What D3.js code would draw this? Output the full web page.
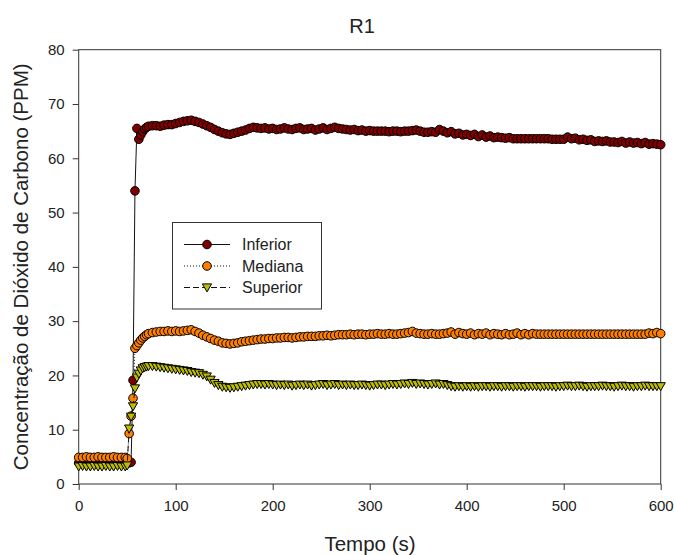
<!DOCTYPE html>
<meta charset="utf-8">
<style>
body { margin: 0; background: #fff; }
svg { font-family: "Liberation Sans", Arial, sans-serif; }
.axis text { font-size: 15px; fill: #222; }
.axis line { stroke: #333; }
.axis path { display: none; }
</style>
<body>
<svg id="chart" width="675" height="555"></svg>
<script src="https://d3js.org/d3.v7.min.js"></script>
<script>

// sample times (s): every 4 s, every 2 s around the step, then every 4 s
var tempo = d3.range(0, 49, 4).concat(d3.range(50, 71, 2), d3.range(72, 601, 4));

var inferior = [
  3.9,3.9,3.9,3.9,3.9,3.9,3.9,3.9,3.9,3.9,3.9,3.9,3.9,
  3.9,3.9,4.0,19.1,54.0,65.5,63.5,64.3,64.9,65.4,65.7,
  65.9,66.0,66.0,65.9,66.1,66.2,66.2,66.4,66.6,66.8,
  66.9,67.0,66.8,66.6,66.3,66.0,65.7,65.3,65.0,64.7,
  64.5,64.4,64.6,64.8,65.0,65.2,65.5,65.7,65.6,65.5,
  65.6,65.4,65.5,65.3,65.4,65.6,65.4,65.3,65.5,65.6,
  65.3,65.4,65.5,65.2,65.4,65.6,65.3,65.5,65.7,65.5,
  65.4,65.3,65.2,65.3,65.1,65.2,65.0,65.1,65.0,65.0,
  65.0,65.0,64.9,65.0,65.0,64.9,65.0,65.0,65.1,65.2,
  65.0,64.8,64.8,64.9,64.8,65.3,65.0,64.7,64.9,64.5,
  64.6,64.3,64.4,64.2,64.4,64.0,64.3,63.9,64.1,63.8,
  63.9,63.8,63.7,63.8,63.6,63.6,63.6,63.6,63.6,63.6,
  63.6,63.6,63.6,63.6,63.5,63.5,63.5,63.5,63.9,63.6,
  63.7,63.4,63.5,63.3,63.4,63.1,63.2,63.1,63.2,63.0,
  63.0,62.9,63.1,62.8,63.0,62.8,62.9,62.7,62.9,62.6,
  62.7,62.6,62.5
];

var mediana = [
  4.9,4.9,5.0,4.9,4.9,5.0,4.9,4.9,4.9,5.0,4.9,4.9,4.9,
  4.7,9.3,12.5,15.8,25.0,25.5,26.0,26.5,26.9,27.2,27.5,
  27.7,27.9,28.0,28.1,28.1,28.2,28.1,28.2,28.1,28.2,
  28.3,28.4,28.1,27.8,27.4,27.1,26.8,26.5,26.3,26.0,
  25.9,25.8,25.9,26.0,26.2,26.3,26.4,26.5,26.6,26.7,
  26.7,26.8,26.8,26.9,26.9,27.0,27.0,26.9,27.0,27.1,
  27.1,27.2,27.2,27.2,27.3,27.3,27.4,27.3,27.4,27.5,
  27.5,27.5,27.6,27.5,27.6,27.6,27.5,27.6,27.6,27.7,
  27.6,27.6,27.7,27.6,27.6,27.7,27.8,27.9,28.1,27.8,
  27.7,27.6,27.6,27.7,27.6,27.6,27.7,27.8,28.0,27.6,
  27.9,27.7,27.6,27.8,27.5,27.7,27.6,27.8,27.5,27.7,
  27.6,27.5,27.7,27.5,27.6,27.8,27.5,27.7,27.5,27.7,
  27.6,27.6,27.6,27.6,27.6,27.6,27.6,27.6,27.6,27.6,
  27.6,27.6,27.6,27.6,27.6,27.6,27.6,27.6,27.6,27.6,
  27.6,27.6,27.6,27.6,27.6,27.6,27.6,27.6,27.6,27.8,
  27.7,27.9,27.7
];

var superior = [
  3.2,3.3,3.2,3.2,3.3,3.2,3.2,3.3,3.2,3.2,3.3,3.2,3.2,
  3.4,10.2,12.4,14.3,17.6,19.6,20.3,20.9,21.3,21.5,21.6,
  21.7,21.7,21.6,21.5,21.4,21.3,21.2,21.1,21.0,20.9,
  20.8,20.6,20.5,20.4,20.1,19.8,19.2,18.6,18.2,17.9,
  17.8,17.7,17.8,17.9,18.0,18.1,18.2,18.3,18.4,18.4,
  18.3,18.4,18.3,18.2,18.3,18.2,18.3,18.1,18.2,18.3,
  18.2,18.3,18.1,18.2,18.3,18.4,18.2,18.3,18.4,18.2,
  18.3,18.2,18.3,18.2,18.2,18.3,18.2,18.1,18.2,18.3,
  18.3,18.2,18.3,18.4,18.3,18.4,18.5,18.4,18.6,18.4,
  18.5,18.4,18.3,18.4,18.5,18.3,18.4,18.2,18.0,17.9,
  18.0,17.9,18.0,17.9,18.0,17.9,18.0,18.0,17.9,18.0,
  18.0,17.9,18.0,18.0,17.9,18.0,18.0,17.9,18.0,18.0,
  18.0,17.9,18.0,18.0,18.0,17.9,18.0,18.0,18.1,18.0,
  18.0,18.1,18.0,17.9,18.0,18.0,18.0,18.1,18.0,18.0,
  17.9,18.0,18.1,18.0,18.0,17.9,18.0,18.0,18.1,18.0,
  18.0,18.0,18.0
];

var seriesNames = ["Inferior", "Mediana", "Superior"];
var xTicks = [0, 100, 200, 300, 400, 500, 600];
var yTicks = [0, 10, 20, 30, 40, 50, 60, 70, 80];

var plotLeft = 78.7, plotRight = 660.7, plotTop = 49.7, plotBottom = 484;

var svg = d3.select("#chart");

var x = d3.scaleLinear().domain([0, 600]).range([plotLeft, plotRight]);
var y = d3.scaleLinear().domain([0, 80]).range([plotBottom, plotTop]);

var styles = [
  { fill: "#800000", dash: null, shape: "circle" },
  { fill: "#ff8000", dash: "1,2", shape: "circle" },
  { fill: "#bcbc00", dash: "6,3", shape: "triangle" }
];

var triPath = "M-4.6,-3.6L4.6,-3.6L0,4.4Z";

function marker(g, shape, fill) {
  if (shape == "circle") {
    g.append("circle").attr("r", 4.3);
  } else {
    g.append("path").attr("d", triPath);
  }
  g.selectAll("circle,path")
   .attr("fill", fill)
   .attr("stroke", "#000")
   .attr("stroke-width", 1);
}

// frame
svg.append("rect")
   .attr("x", plotLeft).attr("y", plotTop)
   .attr("width", plotRight - plotLeft).attr("height", plotBottom - plotTop)
   .attr("fill", "none").attr("stroke", "#333").attr("stroke-width", 1);

svg.append("g")
   .attr("class", "axis")
   .attr("transform", "translate(0," + plotBottom + ")")
   .call(d3.axisBottom(x).tickValues(xTicks).tickSize(6).tickSizeOuter(0).tickPadding(10));

svg.append("g")
   .attr("class", "axis")
   .attr("transform", "translate(" + plotLeft + ",0)")
   .call(d3.axisLeft(y).tickValues(yTicks).tickSize(6).tickSizeOuter(0).tickPadding(8));

var line = d3.line()
  .x(function(d) { return x(d[0]); })
  .y(function(d) { return y(d[1]); });

[inferior, mediana, superior].forEach(function(vals, i) {
  var pts = tempo.map(function(t, j) { return [t, vals[j]]; });
  var g = svg.append("g");
  g.append("path")
   .attr("d", line(pts))
   .attr("fill", "none")
   .attr("stroke", "#111")
   .attr("stroke-width", 1)
   .attr("stroke-dasharray", styles[i].dash);
  g.selectAll("g.pt")
   .data(pts)
   .enter().append("g")
   .attr("class", "pt")
   .attr("transform", function(d) { return "translate(" + x(d[0]) + "," + y(d[1]) + ")"; })
   .each(function() { marker(d3.select(this), styles[i].shape, styles[i].fill); });
});

// legend
var legend = svg.append("g");
legend.append("rect")
   .attr("x", 172.5).attr("y", 222.5).attr("width", 149).attr("height", 86.5)
   .attr("fill", "#fff").attr("stroke", "#333").attr("stroke-width", 1);

seriesNames.forEach(function(name, i) {
  var ly = 244.5 + i * 21.5;
  legend.append("line")
     .attr("x1", 184).attr("x2", 230).attr("y1", ly).attr("y2", ly)
     .attr("stroke", "#111").attr("stroke-width", 1)
     .attr("stroke-dasharray", styles[i].dash);
  var m = legend.append("g").attr("transform", "translate(207," + ly + ")");
  marker(m, styles[i].shape, styles[i].fill);
  legend.append("text")
     .attr("x", 242).attr("y", ly + 5.5)
     .attr("font-size", "16px").attr("fill", "#222")
     .text(name);
});

// titles
svg.append("text")
   .attr("x", 362).attr("y", 33)
   .attr("text-anchor", "middle")
   .attr("font-size", "20px").attr("fill", "#222")
   .text("R1");

svg.append("text")
   .attr("x", 370).attr("y", 551)
   .attr("text-anchor", "middle")
   .attr("font-size", "20.5px").attr("fill", "#222")
   .text("Tempo (s)");

svg.append("text")
   .attr("transform", "translate(28," + ((plotTop + plotBottom) / 2) + ") rotate(-90)")
   .attr("text-anchor", "middle")
   .attr("font-size", "20.5px").attr("fill", "#222")
   .text("Concentração de Dióxido de Carbono (PPM)");

</script>
</body>
